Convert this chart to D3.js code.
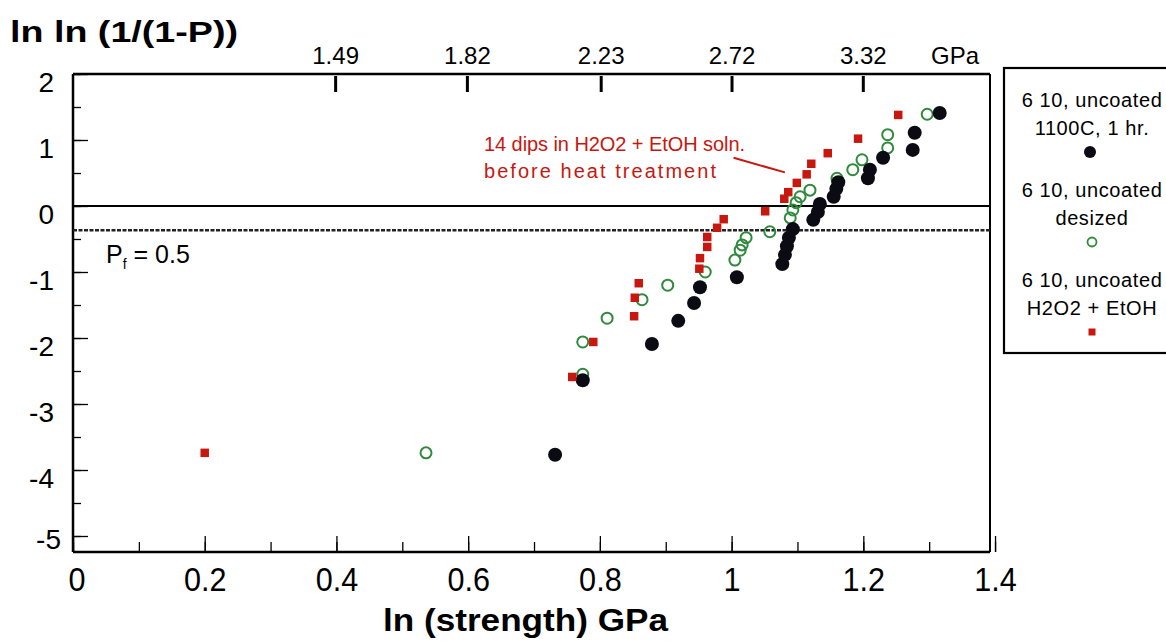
<!DOCTYPE html>
<html>
<head>
<meta charset="utf-8">
<script src="https://cdn.jsdelivr.net/npm/d3@7"></script>
<style>
  html, body { margin: 0; padding: 0; background: #fff; }
  svg { display: block; font-family: "Liberation Sans", Arial, sans-serif; }
</style>
</head>
<body>
<svg id="chart" width="1166" height="641"></svg>
<script>
// ---------- data ----------
const xTickValues = [0, 0.2, 0.4, 0.6, 0.8, 1.0, 1.2, 1.4];
const xTickLabels = ["0", "0.2", "0.4", "0.6", "0.8", "1", "1.2", "1.4"];
const yTickValues = [2, 1, 0, -1, -2, -3, -4, -5];
const yTickLabels = ["2", "1", "0", "-1", "-2", "-3", "-4", "-5"];
const topTickGPa = [1.49, 1.82, 2.23, 2.72, 3.32];
const topTickLabels = ["1.49", "1.82", "2.23", "2.72", "3.32"];
const medianLevel = -0.3665; // ln ln 2, P = 0.5

// 610, uncoated, 1100C, 1 hr. (filled black circles): [ln strength, ln ln(1/(1-P))]
const seriesHeat = [
  [0.732, -3.77], [0.774, -2.64], [0.879, -2.09], [0.919, -1.74], [0.943, -1.47],
  [0.952, -1.23], [1.008, -1.08], [1.077, -0.88], [1.081, -0.74], [1.084, -0.61],
  [1.087, -0.48], [1.093, -0.35], [1.124, -0.21], [1.131, -0.09], [1.134, 0.03],
  [1.155, 0.14], [1.159, 0.26], [1.162, 0.36], [1.207, 0.42], [1.210, 0.55],
  [1.230, 0.73], [1.275, 0.85], [1.278, 1.11], [1.316, 1.41]
];
// 610, uncoated, desized (open green circles)
const seriesDesized = [
  [0.536, -3.74], [0.774, -2.55], [0.774, -2.06], [0.811, -1.70], [0.864, -1.42],
  [0.903, -1.20], [0.960, -1.00], [1.005, -0.82], [1.013, -0.67], [1.016, -0.59],
  [1.022, -0.48], [1.058, -0.39], [1.089, -0.18], [1.093, -0.06], [1.098, 0.05],
  [1.104, 0.14], [1.119, 0.24], [1.160, 0.42], [1.184, 0.55], [1.198, 0.70],
  [1.237, 0.88], [1.237, 1.08], [1.297, 1.39]
];
// 610, uncoated, H2O2 + EtOH (red squares)
const seriesH2O2 = [
  [0.200, -3.74], [0.758, -2.59], [0.790, -2.06], [0.852, -1.67], [0.853, -1.39],
  [0.859, -1.17], [0.951, -0.95], [0.952, -0.79], [0.963, -0.62], [0.963, -0.47],
  [0.978, -0.33], [0.988, -0.20], [1.051, -0.08], [1.080, 0.11], [1.086, 0.21],
  [1.099, 0.35], [1.114, 0.48], [1.121, 0.64], [1.146, 0.80], [1.192, 1.02],
  [1.253, 1.38]
];
const legendLabels = [
  ["6 10, uncoated", "1100C, 1 hr."],
  ["6 10, uncoated", "desized"],
  ["6 10, uncoated", "H2O2 + EtOH"]
];
const annotationLines = ["14 dips in H2O2 + EtOH soln.", "before heat treatment"];

// ---------- layout ----------
const C_BLACK = "#0b0b14", C_GREEN = "#2f8a3c", C_RED = "#c8170f";
const svg = d3.select("#chart");
const L = 73, R = 990, T = 74, B = 552;
const x = d3.scaleLinear().domain([0, 1.4]).range([L, L + 1.4 * 658.6]);
const y = d3.scaleLinear().domain([-5.2424, 2]).range([B, T]);

// frame
svg.append("line").attr("x1", L).attr("x2", R).attr("y1", T).attr("y2", T)
  .attr("stroke", "#000").attr("stroke-width", 2.5);
svg.append("line").attr("x1", R).attr("x2", R).attr("y1", T).attr("y2", B)
  .attr("stroke", "#000").attr("stroke-width", 2);

// bottom axis (ticks inward)
const xMinor = d3.range(0, 15).map(i => i / 10);
const gxMinor = svg.append("g").attr("transform", `translate(0,${B})`)
  .call(d3.axisBottom(x).tickValues(xMinor).tickSizeInner(-10).tickSizeOuter(0).tickFormat(""));
const gx = svg.append("g").attr("transform", `translate(0,${B})`)
  .call(d3.axisBottom(x).tickValues(xTickValues).tickSizeInner(-16).tickSizeOuter(0)
    .tickFormat((d, i) => xTickLabels[i]));
gx.select(".domain").attr("stroke-width", 2.5).attr("d", `M${L},0H${R}`);
gxMinor.select(".domain").remove();
svg.selectAll("g .tick line").attr("stroke", "#000").attr("stroke-width", 1.3);
gx.selectAll(".tick text")
  .attr("y", 0).attr("dy", 0)
  .attr("transform", "translate(0,39) scale(0.9,1)")
  .attr("font-size", 34).attr("fill", "#000");
gx.selectAll(".tick").filter((d, i) => i === 0).select("text").attr("x", 4);

// left axis (ticks inward)
const yMinor = d3.range(-10, 5).map(i => i / 2);
const gyMinor = svg.append("g").attr("transform", `translate(${L},0)`)
  .call(d3.axisLeft(y).tickValues(yMinor).tickSizeInner(-8).tickSizeOuter(0).tickFormat(""));
gyMinor.select(".domain").remove();
const gy = svg.append("g").attr("transform", `translate(${L},0)`)
  .call(d3.axisLeft(y).tickValues(yTickValues).tickSizeInner(-15).tickSizeOuter(0)
    .tickFormat((d, i) => yTickLabels[i]));
gy.select(".domain").attr("stroke-width", 2.5).attr("d", `M0,${T}V${B}`);
gy.selectAll(".tick line").attr("stroke", "#000").attr("stroke-width", 1.3);
gyMinor.selectAll(".tick line").attr("stroke", "#000").attr("stroke-width", 1.3);
gy.selectAll(".tick text")
  .attr("x", -19).attr("dy", 0).attr("y", 17)
  .attr("font-size", 28).attr("fill", "#000");
gy.selectAll(".tick").filter(d => d === -5).select("text").attr("x", -12).attr("y", 12);

// top axis: GPa
const gTop = svg.append("g").attr("transform", `translate(0,${T})`);
gTop.selectAll("line.gpa").data(topTickGPa).join("line").attr("class", "gpa")
  .attr("x1", d => x(Math.log(d))).attr("x2", d => x(Math.log(d)))
  .attr("y1", 2).attr("y2", 18).attr("stroke", "#000").attr("stroke-width", 3);
gTop.selectAll("text.gpa").data(topTickGPa).join("text").attr("class", "gpa")
  .attr("x", d => x(Math.log(d))).attr("y", -10)
  .attr("text-anchor", "middle").attr("font-size", 24).attr("fill", "#000")
  .text((d, i) => topTickLabels[i]);
gTop.append("text").attr("x", 955).attr("y", -10).attr("text-anchor", "middle")
  .attr("font-size", 24).attr("fill", "#000").text("GPa");

// reference lines
svg.append("line").attr("x1", L).attr("x2", R).attr("y1", y(0)).attr("y2", y(0))
  .attr("stroke", "#000").attr("stroke-width", 2.2);
svg.append("line").attr("x1", L).attr("x2", R).attr("y1", y(medianLevel)).attr("y2", y(medianLevel))
  .attr("stroke", "#222").attr("stroke-width", 2.6).attr("stroke-dasharray", "4,1.5");

// P_f = 0.5 label
const pt = svg.append("text").attr("x", 106).attr("y", 263).attr("font-size", 25).attr("fill", "#000");
pt.append("tspan").text("P");
pt.append("tspan").attr("font-size", 14).attr("dx", 0).attr("dy", 6).text("f");
pt.append("tspan").attr("dy", -6).attr("dx", 0).text(" = 0.5");

// axis titles
svg.append("text").attr("x", 10).attr("y", 42).attr("font-size", 30).attr("font-weight", "bold")
  .attr("textLength", 228).attr("lengthAdjust", "spacingAndGlyphs").text("ln ln (1/(1-P))");
svg.append("text").attr("x", 383).attr("y", 631).attr("font-size", 32).attr("font-weight", "bold")
  .attr("textLength", 285).attr("lengthAdjust", "spacingAndGlyphs").text("ln (strength) GPa");

// annotation
svg.selectAll("text.anno").data(annotationLines).join("text").attr("class", "anno")
  .attr("x", 484).attr("y", (d, i) => 151 + i * 27)
  .attr("font-size", 20).attr("fill", C_RED)
  .attr("textLength", (d, i) => i === 0 ? 261 : 232).attr("lengthAdjust", "spacing")
  .text(d => d);
svg.append("line").attr("x1", x(1.003)).attr("y1", y(0.73)).attr("x2", x(1.081)).attr("y2", y(0.51))
  .attr("stroke", C_RED).attr("stroke-width", 2);

// data marks
const gData = svg.append("g");
gData.selectAll("circle.des").data(seriesDesized).join("circle").attr("class", "des")
  .attr("cx", d => x(d[0])).attr("cy", d => y(d[1])).attr("r", 5.5)
  .attr("fill", "none").attr("stroke", C_GREEN).attr("stroke-width", 2);
gData.selectAll("circle.heat").data(seriesHeat).join("circle").attr("class", "heat")
  .attr("cx", d => x(d[0])).attr("cy", d => y(d[1])).attr("r", 7)
  .attr("fill", C_BLACK);
const sq = d3.symbol().type(d3.symbolSquare).size(72);
gData.selectAll("path.h2o2").data(seriesH2O2).join("path").attr("class", "h2o2")
  .attr("transform", d => `translate(${x(d[0])},${y(d[1])})`).attr("d", sq)
  .attr("fill", C_RED);

// legend
const lg = svg.append("g");
lg.append("rect").attr("x", 1004).attr("y", 68).attr("width", 180).attr("height", 285)
  .attr("fill", "#fff").attr("stroke", "#000").attr("stroke-width", 2.2);
const lgX = 1092;
legendLabels.forEach((lines, k) => {
  const base = 107 + k * 90;
  lines.forEach((t, j) => {
    lg.append("text").attr("x", lgX).attr("y", base + j * 28).attr("text-anchor", "middle")
      .attr("font-size", 20).attr("letter-spacing", 0.6).attr("fill", "#000").text(t);
  });
});
lg.append("circle").attr("cx", 1090).attr("cy", 152).attr("r", 6).attr("fill", C_BLACK);
lg.append("circle").attr("cx", 1092).attr("cy", 242).attr("r", 4.5).attr("fill", "none")
  .attr("stroke", C_GREEN).attr("stroke-width", 1.8);
lg.append("path").attr("transform", "translate(1092,332)").attr("d", d3.symbol().type(d3.symbolSquare).size(49))
  .attr("fill", C_RED);
</script>
</body>
</html>
